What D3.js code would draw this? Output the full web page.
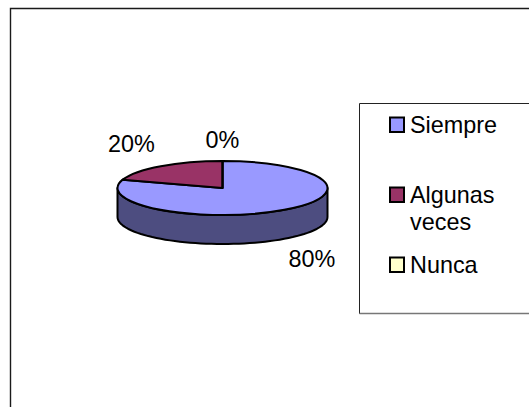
<!DOCTYPE html>
<html>
<head>
<meta charset="utf-8">
<script src="https://cdnjs.cloudflare.com/ajax/libs/d3/7.8.5/d3.min.js"></script>
<style>
html,body{margin:0;padding:0;background:#fff;overflow:hidden}
text{font-family:"Liberation Sans",Arial,sans-serif;fill:#000;font-size:23.4px}
</style>
</head>
<body>
<svg id="c" width="529" height="407"></svg>
<script>
const categories = ["Siempre", "Algunas veces", "Nunca"];
const values = [80, 20, 0];
const percentLabels = ["80%", "20%", "0%"];
const colors = ["#9999ff", "#993366", "#ffffcc"];
const sideColor = "#4d4d80";

const svg = d3.select("#c");
const W = 529, H = 407;
const cx = 222.5, cy = 188, rx = 105, ry = 27, depth = 29;

// outer frame
svg.append("path").attr("d", `M10.5 ${H}V8.5H${W}`).attr("fill", "none").attr("stroke", "#1a1a1a").attr("stroke-width", 1.4);

const pie = d3.pie().value(d => d).sort(null)(values);

const px = d3.scaleLinear().domain([-1, 1]).range([cx - rx, cx + rx]);
const py = d3.scaleLinear().domain([-1, 1]).range([cy - ry, cy + ry]);
const ang = d3.range(90, 270.01, 3).map(d => d * Math.PI / 180);

// side wall (front half of rim)
const wall = d3.area()
  .x(a => px(Math.sin(a)))
  .y0(a => py(-Math.cos(a)))
  .y1(a => py(-Math.cos(a)) + depth);
svg.append("path").datum(ang).attr("d", wall)
  .attr("fill", sideColor).attr("stroke", "#000").attr("stroke-width", 2).attr("stroke-linejoin", "round");

// top faces
const arc = d3.arc().innerRadius(0).outerRadius(1);
svg.append("g").attr("transform", `translate(${cx},${cy}) scale(${rx},${ry})`)
  .selectAll("path").data(pie).join("path")
  .attr("d", arc)
  .attr("fill", (d, i) => colors[i])
  .attr("stroke", "#000").attr("stroke-width", 2).attr("stroke-linejoin", "round")
  .attr("vector-effect", "non-scaling-stroke");

// data labels
const labelPos = [[312, 267], [131.5, 152], [222.5, 148]];
svg.append("g").selectAll("text").data(percentLabels).join("text")
  .attr("x", (d, i) => labelPos[i][0]).attr("y", (d, i) => labelPos[i][1])
  .attr("text-anchor", "middle").text(d => d);

// legend
svg.append("path").attr("d", `M${W} 103.5H359.5V313.5H${W}`).attr("fill", "#fff").attr("stroke", "#222").attr("stroke-width", 1);
svg.append("path").attr("d", `M359.5 313.5H${W}`).attr("stroke", "#777").attr("stroke-width", 1.6);

const legendY = [125, 195, 265];
const lg = svg.append("g");
lg.selectAll("rect").data(categories).join("rect")
  .attr("x", 390).attr("y", (d, i) => legendY[i] - 7.5).attr("width", 14).attr("height", 14.5)
  .attr("fill", (d, i) => colors[i]).attr("stroke", "#000").attr("stroke-width", 2);
const t = lg.selectAll("text").data(categories).join("text")
  .attr("x", 410).attr("y", (d, i) => legendY[i] + 8);
t.selectAll("tspan").data(d => d.split(" ")).join("tspan")
  .attr("x", 410).attr("dy", (d, i) => i ? 27 : 0).text(d => d);
</script>
</body>
</html>
